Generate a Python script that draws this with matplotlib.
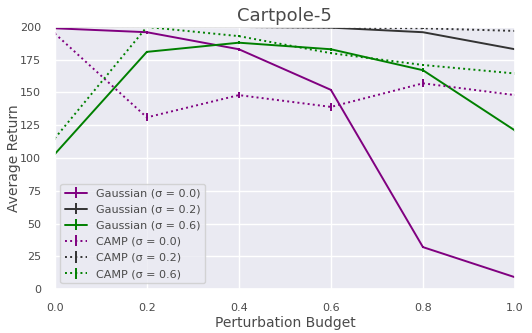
import matplotlib
matplotlib.use("Agg")
import matplotlib.pyplot as plt
import seaborn as sns

sns.set_theme(style="darkgrid")
plt.rcParams['font.family'] = ['DejaVu Sans']
txt = '#4a4a4a'
plt.rcParams['text.color'] = txt
plt.rcParams['axes.labelcolor'] = txt
plt.rcParams['xtick.color'] = txt
plt.rcParams['ytick.color'] = txt

budget = [0.0, 0.2, 0.4, 0.6, 0.8, 1.0]

gauss_00 = [199, 196, 183, 152, 32, 9]
gauss_02 = [200, 200, 200, 199.5, 196, 183]
gauss_06 = [103, 181, 188, 183, 167, 121]
camp_00 = [195, 131, 148, 139, 157, 148]
camp_02 = [200, 200, 200, 199.5, 199, 197]
camp_06 = [115, 200, 193, 180, 171, 164.5]

gauss_00_err = [0.5, 1, 1, 1, 1, 0.5]
gauss_02_err = [0.3, 0.3, 0.3, 0.3, 0.5, 0.5]
gauss_06_err = [1, 1, 1, 1, 1.5, 1]
camp_00_err = [1, 3, 2.5, 3, 3, 1]
camp_02_err = [0.3, 0.3, 0.3, 0.3, 0.5, 0.5]
camp_06_err = [1, 1, 1, 1, 1, 1]

purple = '#800080'
gray = '#333333'
green = '#008000'

fig = plt.figure(figsize=(5.32, 3.33), dpi=100)
ax = fig.add_axes([0.103, 0.132, 0.865, 0.787])

series = [
    (gauss_00, gauss_00_err, purple, '-', 'Gaussian (σ = 0.0)'),
    (gauss_02, gauss_02_err, gray, '-', 'Gaussian (σ = 0.2)'),
    (gauss_06, gauss_06_err, green, '-', 'Gaussian (σ = 0.6)'),
    (camp_00, camp_00_err, purple, ':', 'CAMP (σ = 0.0)'),
    (camp_02, camp_02_err, gray, ':', 'CAMP (σ = 0.2)'),
    (camp_06, camp_06_err, green, ':', 'CAMP (σ = 0.6)'),
]
for vals, err, col, ls, lab in series:
    ax.errorbar(budget, vals, yerr=err, color=col, linestyle=ls,
                linewidth=1.4, elinewidth=1.4, label=lab)

ax.set_xlim(0, 1.0)
ax.set_ylim(0, 200)
ax.set_yticks([0, 25, 50, 75, 100, 125, 150, 175, 200])
ax.tick_params(labelsize=8, pad=4)
ax.set_title('Cartpole-5', fontsize=13, pad=4)
ax.set_xlabel('Perturbation Budget', fontsize=10, labelpad=2)
ax.set_ylabel('Average Return', fontsize=10)
ax.yaxis.set_label_coords(-0.074, 0.5)
ax.legend(loc='lower left', fontsize=8, handlelength=2, labelspacing=0.55,
          borderpad=0.4)

fig.savefig('out.png', dpi=100)
